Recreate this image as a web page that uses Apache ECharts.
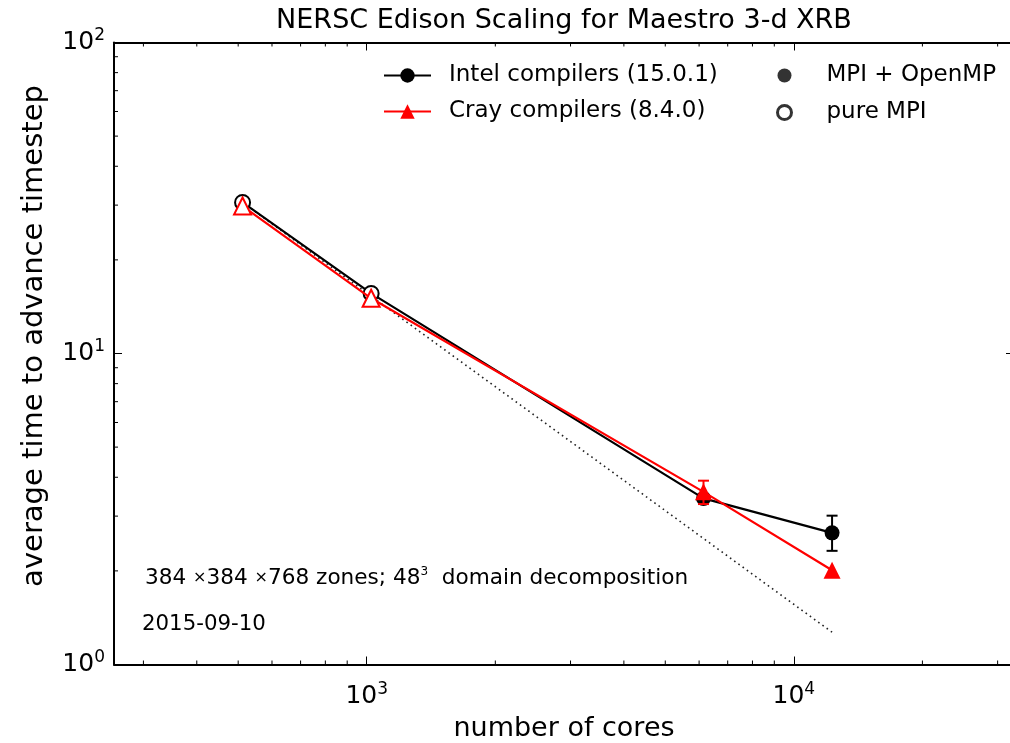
<!DOCTYPE html>
<html><head><meta charset="utf-8">
<script src="https://cdn.jsdelivr.net/npm/echarts@6/dist/echarts.min.js"></script>
<style>html,body{margin:0;padding:0;background:#fff;overflow:hidden;} #c{width:1020px;height:743px;}</style>
</head><body><div id="c"></div>
<script>
// ---- data ----
const cores = [512, 1024, 6144, 12288];
const intelTime = [30.6, 15.6, 3.42, 2.65];
const crayTime = [29.8, 15.05, 3.59, 2.01];
const runMode = ['pure MPI', 'pure MPI', 'MPI + OpenMP', 'MPI + OpenMP'];
const intelErr = [[12288, 2.32, 3.01]];
const crayErr = [[6144, 3.28, 3.90]];
const idealCores = [512, 12288];
const idealTime = [30.6, 1.27];
const xRange = [256, 32768];
const yRange = [1, 100];
const xMinorTicks = [300, 400, 500, 600, 700, 800, 900, 2000, 3000, 4000, 5000, 6000, 7000, 8000, 9000, 20000, 30000];
const yMinorTicks = [2, 3, 4, 5, 6, 7, 8, 9, 20, 30, 40, 50, 60, 70, 80, 90];
const intelName = 'Intel compilers (15.0.1)';
const crayName = 'Cray compilers (8.4.0)';
const hybridName = 'MPI + OpenMP';
const pureName = 'pure MPI';

const FONT = 'DejaVu Sans';
const chart = echarts.init(document.getElementById('c'), null, {renderer: 'canvas'});

function pts(vals, color) {
  return cores.map((c, i) => {
    const d = {value: [c, vals[i]]};
    if (runMode[i] === pureName) d.itemStyle = {color: '#fff', borderColor: color, borderWidth: 2};
    return d;
  });
}
function powLabel(v) {
  const e = Math.round(Math.log10(v));
  return '{b|10}{s|' + e + '}';
}
const labelRich = {
  b: {fontSize: 25, fontFamily: FONT, color: '#000', lineHeight: 30},
  s: {fontSize: 17, fontFamily: FONT, color: '#000', lineHeight: 17, verticalAlign: 'top'}
};
function errRender(color) {
  return function (params, api) {
    const x = api.value(0);
    const lo = api.coord([x, api.value(1)]);
    const hi = api.coord([x, api.value(2)]);
    const w = 5.5;
    const st = {stroke: color, lineWidth: 2};
    return {type: 'group', children: [
      {type: 'line', shape: {x1: lo[0], y1: lo[1], x2: hi[0], y2: hi[1]}, style: st},
      {type: 'line', shape: {x1: lo[0] - w, y1: lo[1], x2: lo[0] + w, y2: lo[1]}, style: st},
      {type: 'line', shape: {x1: hi[0] - w, y1: hi[1], x2: hi[0] + w, y2: hi[1]}, style: st}
    ]};
  };
}
const tickStyle = {stroke: '#000', lineWidth: 1};
const baseX = {
  type: 'log', logBase: 10, min: xRange[0], max: xRange[1],
  axisLine: {show: true, lineStyle: {color: '#000', width: 2}},
  axisTick: {show: true, inside: true, length: 8, lineStyle: {color: '#000', width: 1}},
  splitLine: {show: false}, minorTick: {show: false}
};
const baseY = {
  type: 'log', logBase: 10, min: yRange[0], max: yRange[1], interval: 1,
  axisLine: {show: true, lineStyle: {color: '#000', width: 2}},
  axisTick: {show: true, inside: true, length: 8, lineStyle: {color: '#000', width: 1}},
  splitLine: {show: false}, minorTick: {show: false}
};

const option = {
  animation: false,
  backgroundColor: '#fff',
  grid: {left: 114, top: 42.5, width: 900, height: 622, containLabel: false, outerBoundsMode: 'none'},
  xAxis: [
    Object.assign({}, baseX, {
      position: 'bottom',
      axisLabel: {show: true, margin: 17, showMinLabel: false, showMaxLabel: false, formatter: powLabel, rich: labelRich},
      name: 'number of cores', nameLocation: 'middle', nameGap: 51,
      nameTextStyle: {fontSize: 27, fontFamily: FONT, color: '#000'}
    }),
    Object.assign({}, baseX, {position: 'top', axisLabel: {show: false}})
  ],
  yAxis: [
    Object.assign({}, baseY, {
      position: 'left',
      axisLabel: {show: true, margin: 9, formatter: powLabel, rich: labelRich},
    }),
    Object.assign({}, baseY, {position: 'right', axisLabel: {show: false}})
  ],
  legend: [
    {
      data: [intelName, crayName], orient: 'vertical', left: 383, top: 64, padding: 0,
      itemWidth: 47, itemHeight: 18, itemGap: 13,
      textStyle: {fontSize: 23, fontFamily: FONT, color: '#000', padding: [0, 0, 0, 13]},
      selectedMode: false
    },
    {
      data: [
        {name: hybridName, itemStyle: {color: '#000'}},
        {name: pureName, itemStyle: {color: '#fff', borderColor: '#000', borderWidth: 3}}
      ],
      orient: 'vertical', left: 776, top: 64, padding: 0,
      itemWidth: 74, itemHeight: 14, itemGap: 14,
      textStyle: {fontSize: 23, fontFamily: FONT, color: '#000'},
      selectedMode: false
    }
  ],
  graphic: [
    {type: 'text', silent: true, style: {x: 564, y: 21, text: 'NERSC Edison Scaling for Maestro 3-d XRB', align: 'center', verticalAlign: 'middle', fontSize: 27, fontFamily: FONT, fill: '#000'}},
    {type: 'text', silent: true, x: 34, y: 336, rotation: Math.PI / 2,
      style: {x: 0, y: 0, text: 'average time to advance timestep', align: 'center', verticalAlign: 'middle', fontSize: 29, fontFamily: FONT, fill: '#000'}},
    {type: 'text', silent: true, style: {x: 145, y: 578, verticalAlign: 'middle',
      text: '{n|384 }{x|×}{n|384 }{x|×}{n|768 zones; 48}{s|3}{n|  domain decomposition}',
      rich: {
        n: {fontSize: 21.6, fontFamily: FONT, fill: '#000', lineHeight: 24},
        x: {fontSize: 16, fontFamily: FONT, fill: '#000', lineHeight: 24},
        s: {fontSize: 12, fontFamily: FONT, fill: '#000', lineHeight: 12, verticalAlign: 'top'}
      }}},
    {type: 'text', silent: true, style: {x: 142, y: 624, verticalAlign: 'middle', text: '2015-09-10', fontSize: 21.3, fontFamily: FONT, fill: '#000'}}
  ],
  series: [
    {
      type: 'custom', name: 'xminor', silent: true, clip: false, z: 1,
      data: xMinorTicks.map(v => [v, 10]),
      renderItem: function (params, api) {
        const v = api.value(0);
        const b = api.coord([v, yRange[0]]);
        const t = api.coord([v, yRange[1]]);
        return {type: 'group', children: [
          {type: 'line', shape: {x1: b[0], y1: b[1], x2: b[0], y2: b[1] - 4}, style: tickStyle},
          {type: 'line', shape: {x1: t[0], y1: t[1], x2: t[0], y2: t[1] + 4}, style: tickStyle}
        ]};
      }
    },
    {
      type: 'custom', name: 'yminor', silent: true, clip: false, z: 1,
      data: yMinorTicks.map(v => [1000, v]),
      renderItem: function (params, api) {
        const v = api.value(1);
        const l = api.coord([xRange[0], v]);
        const r = api.coord([xRange[1], v]);
        return {type: 'group', children: [
          {type: 'line', shape: {x1: l[0], y1: l[1], x2: l[0] + 4, y2: l[1]}, style: tickStyle},
          {type: 'line', shape: {x1: r[0], y1: r[1], x2: r[0] - 4, y2: r[1]}, style: tickStyle}
        ]};
      }
    },
    {
      type: 'line', name: 'ideal', silent: true, symbol: 'none', z: 2,
      data: idealCores.map((c, i) => [c, idealTime[i]]),
      lineStyle: {color: '#222', width: 1.6, type: [1.6, 3.6]}
    },
    {
      type: 'line', name: intelName, z: 3,
      data: pts(intelTime, '#000'),
      symbol: 'circle', symbolSize: 15,
      lineStyle: {color: '#000', width: 2.2},
      itemStyle: {color: '#000'}
    },
    {
      type: 'custom', name: 'intelErr', silent: true, z: 3,
      data: intelErr, renderItem: errRender('#000')
    },
    {
      type: 'line', name: crayName, z: 4,
      data: pts(crayTime, '#ff0000'),
      symbol: 'triangle', symbolSize: 17,
      lineStyle: {color: '#ff0000', width: 2.2},
      itemStyle: {color: '#ff0000'}
    },
    {
      type: 'custom', name: 'crayErr', silent: true, z: 4,
      data: crayErr, renderItem: errRender('#ff0000')
    },
    {type: 'scatter', name: hybridName, data: [], symbol: 'circle', itemStyle: {color: '#000'}},
    {type: 'scatter', name: pureName, data: [], symbol: 'circle', itemStyle: {color: '#fff', borderColor: '#000', borderWidth: 3}}
  ]
};
chart.setOption(option);
</script>
</body></html>
